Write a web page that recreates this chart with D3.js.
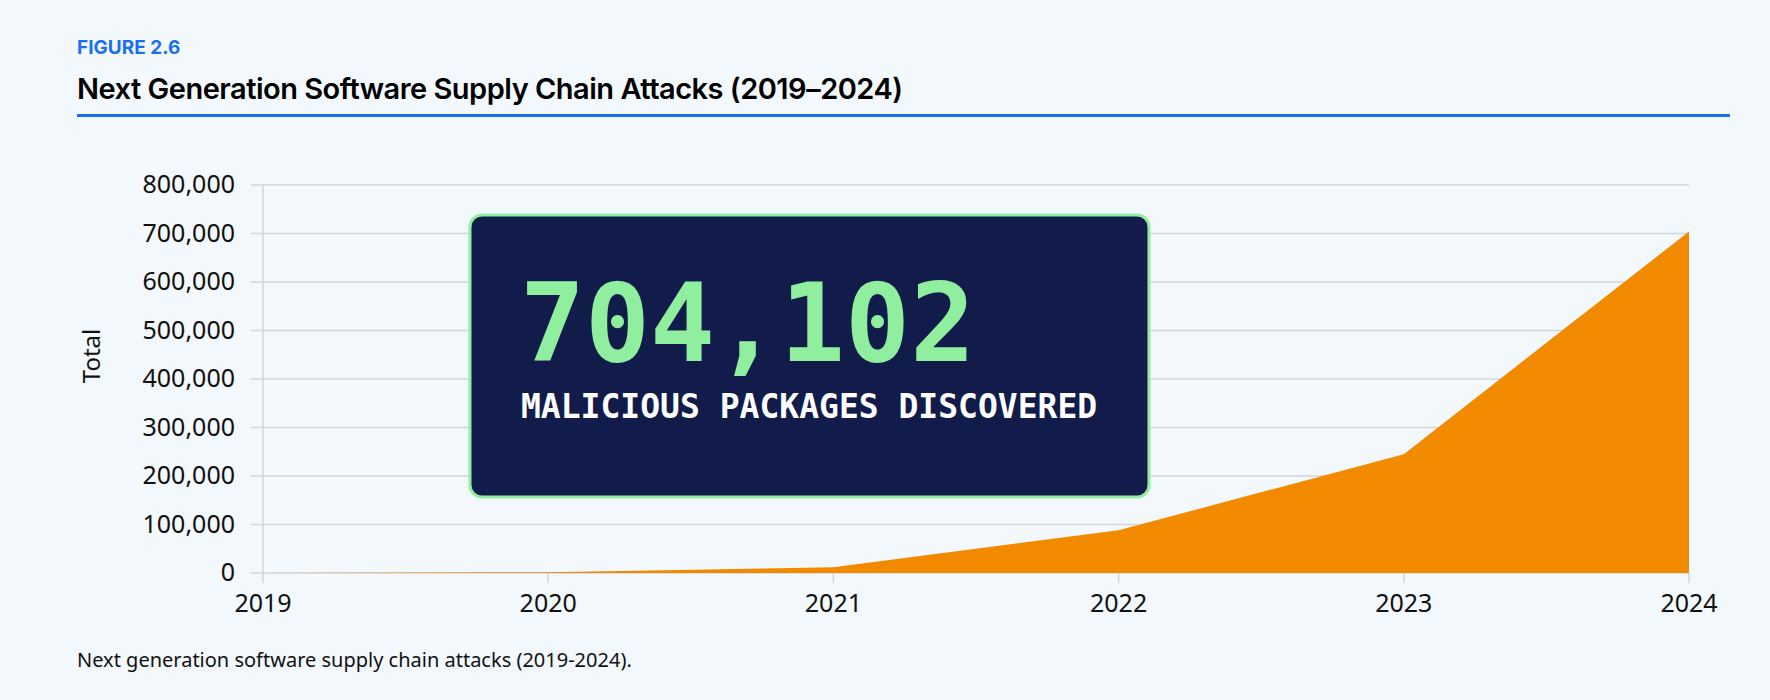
<!DOCTYPE html>
<html><head><meta charset="utf-8">
<script src="https://cdn.jsdelivr.net/npm/d3@7"></script>
<style>body{margin:0;background:#f3f8fc;}svg{display:block}</style>
</head><body><svg id="c" width="1770" height="700"></svg>
<script>
const years = [2019, 2020, 2021, 2022, 2023, 2024];
const totals = [0, 1500, 12000, 88000, 245000, 704102];
const yTicks = [0, 100000, 200000, 300000, 400000, 500000, 600000, 700000, 800000];

const svg = d3.select("#c");
svg.append("rect").attr("width",1770).attr("height",700).attr("fill","#f3f8fc");
svg.append("text").attr("x",77).attr("y",54).text("FIGURE 2.6")
  .attr("font-family","Inter").attr("font-weight",700).attr("font-size",19).attr("fill","#1a6ef0");
svg.append("text").attr("x",77).attr("y",99).text("Next Generation Software Supply Chain Attacks (2019–2024)")
  .attr("font-family","Inter").attr("font-weight",600).attr("font-size",29).attr("fill","#000").attr("letter-spacing",-0.5);
svg.append("rect").attr("x",77).attr("y",114).attr("width",1653).attr("height",3).attr("fill","#1a6ef0");

const L=263,R=1689,T=185,B=573;
const x = d3.scaleLinear().domain([2019,2024]).range([L,R]);
const y = d3.scaleLinear().domain([0,800000]).range([B,T]);

const g = svg.append("g");
g.selectAll(".gl").data(yTicks).join("line")
  .attr("x1",L-12).attr("x2",R).attr("y1",d=>y(d)).attr("y2",d=>y(d))
  .attr("stroke","#d3d5d8").attr("stroke-width",1.5);
g.append("line").attr("x1",L).attr("x2",L).attr("y1",T).attr("y2",B+10).attr("stroke","#d3d5d8").attr("stroke-width",1.5);
g.selectAll(".xt").data(years.slice(1)).join("line")
  .attr("x1",d=>x(d)).attr("x2",d=>x(d)).attr("y1",B).attr("y2",B+10).attr("stroke","#d3d5d8").attr("stroke-width",1.5);

const area = d3.area().x((d,i)=>x(years[i])).y0(y(0)).y1(d=>y(d));
g.append("path").datum(totals).attr("d",area).attr("fill","#f28a00");

const fnt = "'Noto Sans', sans-serif";
g.selectAll(".yl").data(yTicks).join("text")
  .attr("x",L-28).attr("y",d=>y(d)+8).attr("text-anchor","end").text(d=>d3.format(",")(d))
  .attr("font-family",fnt).attr("font-size",25).attr("fill","#111");
g.selectAll(".xl").data(years).join("text")
  .attr("x",d=>x(d)).attr("y",B+39).attr("text-anchor","middle").text(d=>d)
  .attr("font-family",fnt).attr("font-size",25).attr("fill","#111");
g.append("text").attr("transform","translate(100,356) rotate(-90)").attr("text-anchor","middle")
  .text("Total").attr("font-family",fnt).attr("font-size",24).attr("fill","#111");

svg.append("rect").attr("x",470).attr("y",215).attr("width",679).attr("height",282).attr("rx",12)
  .attr("fill","#121c4b").attr("stroke","#8fef9e").attr("stroke-width",3);
svg.append("text").attr("x",520).attr("y",361).text(d3.format(",")(totals[5]))
  .attr("font-family","'DejaVu Sans Mono', monospace").attr("font-weight",700).attr("font-size",108).attr("fill","#8fef9e");
svg.append("text").attr("x",521).attr("y",418).text("MALICIOUS PACKAGES DISCOVERED")
  .attr("font-family","'DejaVu Sans Mono', monospace").attr("font-weight",700).attr("font-size",33).attr("fill","#fff");

svg.append("text").attr("x",77).attr("y",667).text("Next generation software supply chain attacks (2019-2024).")
  .attr("font-family",fnt).attr("font-size",20).attr("fill","#111");
</script></body></html>
